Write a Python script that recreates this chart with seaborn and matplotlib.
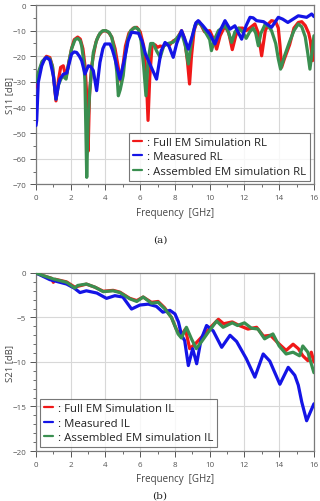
import numpy as np
import pandas as pd
import matplotlib
matplotlib.use("Agg")
import matplotlib.pyplot as plt
from matplotlib.lines import Line2D
from matplotlib.ticker import MultipleLocator
import seaborn as sns

# S11 (return loss) curves
s11_full_f = [0.02, 0.15, 0.35, 0.6, 0.8, 0.95, 1.15, 1.3, 1.42, 1.57, 1.73, 1.9, 2.05, 2.2, 2.4, 2.55, 2.7,
              2.82, 2.92, 3.0, 3.08, 3.2, 3.3, 3.45, 3.6, 3.8, 4.0, 4.2, 4.36, 4.55, 4.74, 4.9, 5.0, 5.15,
              5.35, 5.6, 5.8, 6.0, 6.2, 6.35, 6.45, 6.55, 6.68, 6.85, 7.0, 7.15, 7.3, 7.5, 7.7, 7.9, 8.1,
              8.38, 8.55, 8.72, 8.84, 8.95, 9.1, 9.25, 9.4, 9.7, 10.0, 10.2, 10.4, 10.6, 10.88, 11.1, 11.3,
              11.5, 11.7, 11.9, 12.1, 12.3, 12.6, 12.8, 12.99, 13.2, 13.4, 13.56, 13.8, 13.95, 14.05, 14.14,
              14.3, 14.6, 14.85, 15.1, 15.3, 15.5, 15.7, 15.8, 15.92, 16.0]
s11_full_db = [-32, -27, -22.5, -20, -20.5, -24, -37.4, -29, -24.3, -23.7, -28.2, -22, -17, -13.5, -12.5, -13.3, -17,
               -23.7, -35, -57, -35, -24, -19.8, -14.5, -12, -10.3, -10, -10.8, -12.5, -17, -24.5, -30, -24, -16,
               -11, -9, -8.7, -10.5, -16, -28, -45, -28, -16, -15.5, -16.5, -16, -16.3, -15, -15.5, -14, -13.3,
               -10, -13, -22, -30.8, -20, -10, -6.8, -6.5, -10.4, -10, -13, -17.2, -12, -8.1, -11, -17.4,
               -12, -9, -9, -10, -9, -7.4, -11, -19.8, -10, -7.2, -6.1, -6.5, -9, -16, -24.3,
               -21, -15.5, -9, -6.8, -6.5, -8, -11, -14, -21.7, -18]

s11_meas_f = [0.0, 0.04, 0.13, 0.33, 0.5, 0.61, 0.8, 1.0, 1.15, 1.3, 1.38, 1.57, 1.77, 1.9, 2.05, 2.2, 2.34, 2.5,
              2.63, 2.82, 3.01, 3.15, 3.3, 3.49, 3.68, 3.85, 3.97, 4.26, 4.4, 4.55, 4.83, 5.1, 5.3, 5.5, 5.9,
              6.1, 6.3, 6.47, 6.94, 7.2, 7.43, 7.65, 7.9, 8.1, 8.38, 8.55, 8.77, 9.0, 9.2, 9.34, 9.6, 10.0,
              10.3, 10.6, 10.88, 11.17, 11.45, 11.84, 12.1, 12.32, 12.5, 12.7, 13.1, 13.56, 13.95, 14.2, 14.5,
              14.8, 15.1, 15.58, 15.87, 16.0]
s11_meas_db = [-47, -45, -30.2, -23.7, -21, -20.4, -21.5, -27.6, -36.7, -31, -28.9, -27, -26.5, -23, -19.1, -18.3, -18.5, -20,
               -21.7, -26.9, -23.7, -24, -25.6, -33.4, -22.4, -17, -15.2, -15.2, -17.5, -21, -28.9, -21, -14, -10.6, -11,
               -14, -19, -21.7, -28.9, -18, -14.6, -16, -20.4, -15, -10, -13, -17.2, -12, -7, -6.1, -8, -11.3,
               -15.2, -10, -6.1, -9.4, -8.1, -13.3, -8, -4.8, -5, -6.1, -6.5, -8.7, -4.8, -5.5, -6.8,
               -5.5, -4.2, -4.8, -3.5, -4.5]

s11_asm_f = [0.02, 0.15, 0.35, 0.6, 0.8, 0.95, 1.15, 1.3, 1.48, 1.6, 1.73, 1.9, 2.05, 2.25, 2.4, 2.55, 2.63, 2.75,
             2.82, 2.92, 3.0, 3.1, 3.3, 3.5, 3.68, 3.85, 4.02, 4.2, 4.36, 4.5, 4.65, 4.74, 4.85, 5.02, 5.15, 5.3,
             5.45, 5.7, 5.9, 6.05, 6.2, 6.33, 6.45, 6.6, 6.75, 6.95, 7.15, 7.35, 7.6, 7.9, 8.1, 8.38, 8.6, 8.77,
             8.95, 9.15, 9.34, 9.55, 9.7, 10.0, 10.1, 10.3, 10.5, 10.88, 11.05, 11.26, 11.45, 11.65, 11.9, 12.1,
             12.3, 12.5, 12.65, 12.8, 12.95, 13.2, 13.4, 13.56, 13.8, 13.95, 14.08, 14.3, 14.6, 14.85, 15.1,
             15.3, 15.5, 15.65, 15.77, 15.9, 16.0]
s11_asm_db = [-30, -26, -22, -20.4, -21, -24, -36.7, -31, -28.2, -28, -28.9, -22, -17, -13.5, -13, -14, -16, -22,
              -30, -67.2, -45, -33, -18.5, -13.5, -11, -10, -10, -10.6, -12.6, -17, -26, -35.4, -33, -27.6, -19, -13,
              -10, -8.7, -9.5, -14, -24, -35.4, -22, -15, -15, -18, -20.4, -16, -15, -14.5, -13, -10.6, -16, -23,
              -14, -8, -6.8, -8, -10, -13.5, -17.8, -13, -10, -8.1, -10, -14.6, -10.5, -9, -10.5, -13,
              -10.5, -9, -11, -15.9, -11, -7.4, -8.5, -10, -15, -21, -25, -20, -14.3, -10, -7.4,
              -8.5, -12.4, -19, -25, -18, -12]

# S21 (insertion loss) curves
s21_full_f = [0.0, 0.4, 0.9, 1.0, 1.1, 1.76, 2.24, 2.4, 2.9, 3.4, 3.87, 4.44, 4.83, 5.4, 5.8, 6.17, 6.65, 7.03,
              7.4, 7.8, 8.1, 8.37, 8.6, 8.85, 9.2, 9.7, 10.1, 10.5, 10.8, 11.3, 11.7, 12.2, 12.7, 13.1, 13.5,
              13.9, 14.4, 14.8, 15.1, 15.36, 15.65, 15.85, 16.0]
s21_full_db = [0.0, -0.3, -0.6, -1.05, -0.7, -1.0, -1.6, -1.5, -1.25, -1.6, -2.05, -1.95, -2.15, -2.85, -3.1, -2.7, -3.3, -3.2,
               -3.9, -5.0, -6.4, -7.0, -6.3, -8.5, -7.9, -6.85, -6.0, -5.2, -5.7, -5.5, -5.9, -6.3, -6.1, -7.1, -7.0,
               -7.8, -8.7, -8.0, -8.5, -9.3, -9.85, -8.9, -10.0]

s21_meas_f = [0.0, 0.8, 1.76, 2.2, 2.53, 2.9, 3.5, 4.06, 4.54, 5.0, 5.5, 5.98, 6.46, 6.93, 7.3, 7.71, 8.0, 8.2,
              8.38, 8.56, 8.77, 9.02, 9.25, 9.5, 9.82, 10.2, 10.69, 11.17, 11.55, 12.1, 12.6, 13.08, 13.46,
              14.04, 14.52, 14.9, 15.1, 15.3, 15.58, 15.8, 16.0]
s21_meas_db = [0.0, -0.75, -1.24, -1.7, -2.2, -2.0, -2.25, -2.85, -2.55, -2.7, -4.05, -3.6, -3.5, -3.75, -4.4, -4.2, -4.6, -5.5,
               -7.0, -7.6, -10.4, -8.5, -10.2, -7.5, -5.9, -6.5, -8.35, -7.0, -7.7, -9.6, -11.7, -9.1, -9.9,
               -12.5, -10.6, -11.5, -12.6, -14.5, -16.6, -15.6, -14.7]

s21_asm_f = [0.0, 0.42, 1.0, 1.76, 2.24, 2.4, 2.9, 3.4, 3.87, 4.44, 4.83, 5.4, 5.8, 6.17, 6.65, 7.03, 7.4, 7.8,
             8.18, 8.37, 8.66, 8.95, 9.23, 9.5, 9.9, 10.4, 10.77, 11.3, 11.6, 12.0, 12.4, 12.78, 13.16, 13.64,
             14.0, 14.4, 14.8, 15.17, 15.36, 15.65, 16.0]
s21_asm_db = [0.0, -0.3, -0.67, -1.05, -1.7, -1.4, -1.24, -1.6, -2.1, -2.0, -2.2, -2.9, -3.2, -2.7, -3.4, -3.3, -4.0, -5.0,
              -6.85, -7.3, -6.1, -7.4, -8.5, -7.8, -6.7, -5.4, -6.1, -5.6, -5.9, -5.6, -6.2, -6.3, -7.4, -6.85,
              -8.2, -9.1, -8.9, -9.3, -8.2, -8.9, -11.2]

labels_rl = [": Full EM Simulation RL", ": Measured RL", ": Assembled EM simulation RL"]
labels_il = [": Full EM Simulation IL", ": Measured IL", ": Assembled EM simulation IL"]
colors = ["#f01818", "#1414e6", "#3a8f50"]

sns.set_theme(style="whitegrid")
plt.rcParams["font.family"] = ["Open Sans", "DejaVu Sans"]

fig = plt.figure(figsize=(3.2, 5.02), dpi=100)
ax1 = fig.add_axes([0.1125, 0.6305, 0.8685, 0.3575])
ax2 = fig.add_axes([0.1125, 0.0996, 0.8685, 0.3546])

top = [(s11_full_f, s11_full_db, 1), (s11_asm_f, s11_asm_db, 2), (s11_meas_f, s11_meas_db, 3)]
bot = [(s21_full_f, s21_full_db, 1), (s21_meas_f, s21_meas_db, 2), (s21_asm_f, s21_asm_db, 3)]
top_colors = [colors[0], colors[2], colors[1]]
bot_colors = [colors[0], colors[1], colors[2]]

for (f, v, z), c in zip(top, top_colors):
    d = pd.DataFrame({"f": f, "v": v})
    sns.lineplot(data=d, x="f", y="v", ax=ax1, color=c, lw=2.3, zorder=z + 2)
for (f, v, z), c in zip(bot, bot_colors):
    d = pd.DataFrame({"f": f, "v": v})
    sns.lineplot(data=d, x="f", y="v", ax=ax2, color=c, lw=2.3, zorder=z + 2)

def style_axis(ax, ylim, major, minor, ylabel, labels, legend_loc):
    ax.set_xlim(0, 16)
    ax.set_ylim(*ylim)
    ax.xaxis.set_major_locator(MultipleLocator(2))
    ax.xaxis.set_minor_locator(MultipleLocator(1))
    ax.yaxis.set_major_locator(MultipleLocator(major))
    ax.yaxis.set_minor_locator(MultipleLocator(minor))
    ax.grid(True, which="major", color="#d8d8d8", lw=0.8)
    ax.grid(False, which="minor")
    for s in ax.spines.values():
        s.set_color("#7a7a7a")
        s.set_linewidth(0.9)
    ax.tick_params(which="major", direction="out", length=4.5, width=0.7, colors="#555555",
                   labelsize=5.8, pad=2.5, bottom=True, left=True)
    ax.tick_params(which="minor", direction="out", length=2.5, width=0.6, color="#555555",
                   bottom=True, left=True)
    ax.set_xlabel("Frequency  [GHz]", fontsize=7, color="#444444", labelpad=4)
    ax.set_ylabel(ylabel, fontsize=6.8, color="#444444")
    ax.yaxis.set_label_coords(-0.08, 0.5)
    handles = [Line2D([0], [0], color=c, lw=1.6) for c in colors]
    leg = ax.legend(handles, labels, loc=legend_loc, fontsize=8.2, frameon=True, fancybox=False,
                    handlelength=0.8, handletextpad=0.4, borderpad=0.35, labelspacing=0.3,
                    borderaxespad=0.35)
    leg.get_frame().set_edgecolor("#555555")
    leg.get_frame().set_linewidth(0.8)
    leg.set_zorder(10)
    for t in leg.get_texts():
        t.set_color("#222222")

style_axis(ax1, (-70, 0), 10, 5, "S11 [dB]", labels_rl, "lower right")
style_axis(ax2, (-20, 0), 5, 1, "S21 [dB]", labels_il, "lower left")

fig.text(0.5, 1 - 240 / 502, "(a)", ha="center", va="center", fontsize=7.5, family="DejaVu Serif", color="#222222")
fig.text(0.5, 0.002, "(b)", ha="center", va="bottom", fontsize=7.5, family="DejaVu Serif", color="#222222")

fig.savefig("out.png", dpi=100)
